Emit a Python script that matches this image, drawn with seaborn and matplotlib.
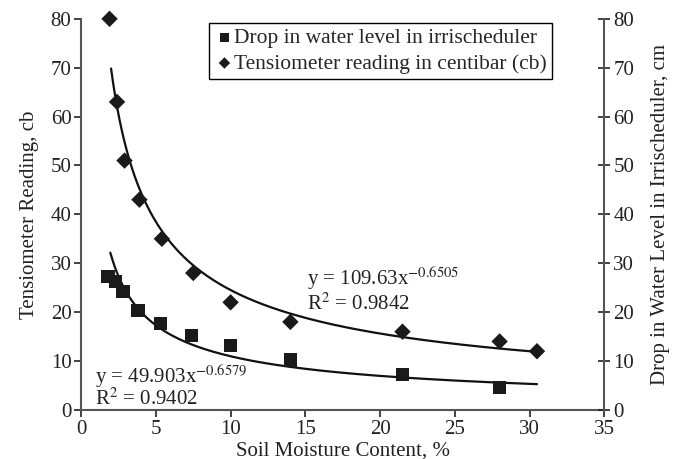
import numpy as np
import pandas as pd
import matplotlib
matplotlib.use("Agg")
import matplotlib.pyplot as plt
import seaborn as sns

# tensiometer reading (cb), diamonds
tens_x = [1.9, 2.4, 2.9, 3.9, 5.4, 7.5, 10.0, 14.0, 21.5, 28.0, 30.5]
tens_y = [80, 63, 51, 43, 35, 28, 22, 18, 16, 14, 12]
# drop in water level in irrischeduler (cm), squares
drop_x = [1.8, 2.3, 2.8, 3.8, 5.3, 7.4, 10.0, 14.0, 21.5, 28.0]
drop_y = [27.3, 26.2, 24.2, 20.4, 17.6, 15.3, 13.2, 10.2, 7.2, 4.5]

# power trendlines shown on the chart
tens_a, tens_b = 109.63, -0.6505
drop_a, drop_b = 49.903, -0.6579

sns.set_style("ticks")
plt.rcParams["font.family"] = ["Liberation Serif", "DejaVu Serif"]
plt.rcParams["mathtext.fontset"] = "stix"

TXT = "#222222"
FS = 15

fig = plt.figure(figsize=(6.82, 4.59), dpi=100)
ax = fig.add_axes([0.119, 0.107, 0.767, 0.852])

tens = pd.DataFrame({"x": tens_x, "y": tens_y})
drop = pd.DataFrame({"x": drop_x, "y": drop_y})

xs1 = np.linspace(2.0, 30.5, 200)
xs2 = np.linspace(1.95, 30.5, 200)
sns.lineplot(x=xs1, y=tens_a * xs1 ** tens_b, ax=ax, color="#111111", lw=1.6)
sns.lineplot(x=xs2, y=drop_a * xs2 ** drop_b, ax=ax, color="#111111", lw=1.6)

sns.scatterplot(data=drop, x="x", y="y", marker="s", s=90, color="#1a1a1a",
                edgecolor="none", ax=ax, label="Drop in water level in irrischeduler",
                zorder=3, clip_on=False)
sns.scatterplot(data=tens, x="x", y="y", marker="D", s=70, color="#1a1a1a",
                edgecolor="none", ax=ax, label="Tensiometer reading in centibar (cb)",
                zorder=3, clip_on=False)

ax.set_xlim(0, 35)
ax.set_ylim(0, 80)
ax.set_xticks(range(0, 36, 5))
ax.set_yticks(range(0, 81, 10))
ax.set_xlabel("Soil Moisture Content, %", fontsize=FS, color=TXT, labelpad=2)
ax.set_ylabel("Tensiometer Reading, cb", fontsize=FS, color=TXT, labelpad=8)
ax.tick_params(labelsize=FS, colors=TXT, length=5, width=1.2, pad=2)
ax.spines["top"].set_visible(False)
ax.spines["right"].set_visible(False)
for s in ("left", "bottom"):
    ax.spines[s].set_color("#555555")
    ax.spines[s].set_linewidth(1.5)

ax2 = ax.twinx()
ax2.set_ylim(0, 80)
ax2.set_yticks(range(0, 81, 10))
ax2.set_ylabel("Drop in Water Level in Irrischeduler, cm", fontsize=FS, color=TXT, labelpad=12)
ax2.tick_params(labelsize=FS, colors=TXT, length=9, width=1.2, direction="inout", pad=2)
ax2.spines["top"].set_visible(False)
ax2.spines["left"].set_visible(False)
ax2.spines["bottom"].set_visible(False)
ax2.spines["right"].set_color("#555555")
ax2.spines["right"].set_linewidth(1.5)

ax.text(15.1, 25.6, r"y = 109.63x$^{-0.6505}$", fontsize=FS, color=TXT, va="baseline")
ax.text(15.1, 20.4, r"R$^{2}$ = 0.9842", fontsize=FS, color=TXT, va="baseline")
ax.text(0.94, 5.5, r"y = 49.903x$^{-0.6579}$", fontsize=FS, color=TXT, va="baseline")
ax.text(0.94, 1.0, r"R$^{2}$ = 0.9402", fontsize=FS, color=TXT, va="baseline")

leg = ax.legend(loc="upper right", bbox_to_anchor=(0.9006, 0.99), fontsize=15.5,
                frameon=True, fancybox=False, edgecolor="black", framealpha=1,
                handletextpad=0.0, handlelength=0.9, borderpad=0.25, labelspacing=0.25,
                borderaxespad=0, markerscale=0.7)
leg.get_frame().set_linewidth(1.0)

fig.savefig("out.png", dpi=100)
